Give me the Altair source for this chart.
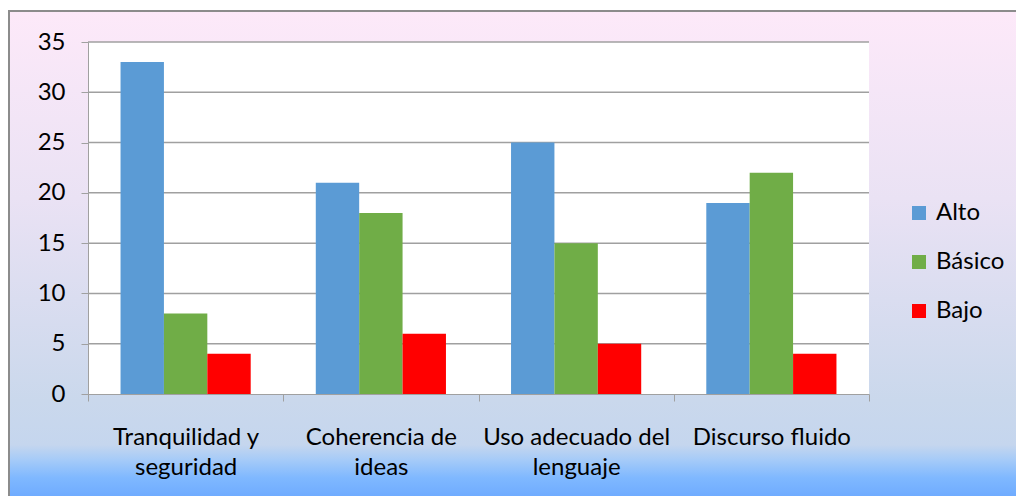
import altair as alt
import pandas as pd

categories = ["Tranquilidad y\nseguridad", "Coherencia de\nideas", "Uso adecuado del\nlenguaje", "Discurso fluido"]
series = ["Alto", "Básico", "Bajo"]
alto = [33, 21, 25, 19]
basico = [8, 18, 15, 22]
bajo = [4, 6, 5, 4]
y_ticks = [0, 5, 10, 15, 20, 25, 30, 35]
colors = ["#5B9BD5", "#70AD47", "#FF0000"]

rows = []
for i, c in enumerate(categories):
    for s, vals in zip(series, [alto, basico, bajo]):
        rows.append({"cat": c, "serie": s, "valor": vals[i]})
df = pd.DataFrame(rows)
grid_df = pd.DataFrame({"v": y_ticks[1:]})
one = pd.DataFrame({"a": [0]})

W, H = 781, 352
FONT = "Lato"
GRAY = "#A0A0A0"
FS = 24


def y_axis():
    return alt.Axis(values=y_ticks, title=None, grid=False, zindex=1,
                    domainColor=GRAY, tickColor=GRAY, tickSize=7,
                    labelFontSize=FS, labelPadding=16, labelColor="#000000",
                    labelFont=FONT)


bg = alt.Chart(one).mark_rect(
    fill=alt.Gradient(
        gradient="linear", x1=0, x2=0, y1=0, y2=1,
        stops=[
            alt.GradientStop(offset=0, color="#FDE9F9"),
            alt.GradientStop(offset=0.38, color="#EAE2F4"),
            alt.GradientStop(offset=0.79, color="#CAD8EC"),
            alt.GradientStop(offset=0.88, color="#C5D6EE"),
            alt.GradientStop(offset=0.91, color="#A6CBF8"),
            alt.GradientStop(offset=0.947, color="#7FB8FF"),
            alt.GradientStop(offset=1, color="#68A6FF"),
        ]),
    stroke="#8C8C8C", strokeWidth=2,
).encode(x=alt.value(-79), x2=alt.value(960), y=alt.value(-31), y2=alt.value(462))

plot_bg = alt.Chart(one).mark_rect(fill="white").encode(
    x=alt.value(0), x2=alt.value(W), y=alt.value(0), y2=alt.value(H))

grid = alt.Chart(grid_df).mark_rule(color=GRAY, strokeWidth=1.5).encode(
    y=alt.Y("v:Q", scale=alt.Scale(domain=[0, 35], nice=False), axis=y_axis()),
    x=alt.value(0), x2=alt.value(W))

bars = alt.Chart(df).mark_bar().encode(
    x=alt.X("cat:N", sort=categories, scale=alt.Scale(paddingInner=0, paddingOuter=0),
            axis=alt.Axis(title=None, labelAngle=0, tickBand="extent", zindex=1,
                          domainColor=GRAY, tickColor=GRAY, tickSize=7,
                          labelFontSize=FS, labelFont=FONT, labelColor="#000000",
                          labelPadding=24, labelLineHeight=30, labelLimit=400,
                          labelOverlap=False,
                          labelExpr="split(datum.label, '\\n')")),
    xOffset=alt.XOffset("serie:N", sort=series,
                        scale=alt.Scale(paddingInner=0, paddingOuter=0.75)),
    y=alt.Y("valor:Q", scale=alt.Scale(domain=[0, 35], nice=False), axis=y_axis()),
    color=alt.Color("serie:N", sort=series,
                    scale=alt.Scale(domain=series, range=colors),
                    legend=alt.Legend(title=None, orient="none", legendX=819, legendY=159,
                                      symbolType="square", symbolSize=196,
                                      symbolStrokeWidth=0, labelFontSize=FS,
                                      labelFont=FONT, labelColor="#000000",
                                      rowPadding=25, labelOffset=5, padding=0)),
)

chart = alt.layer(bg, plot_bg, grid, bars).properties(
    width=W, height=H,
    autosize=alt.AutoSizeParams(type="none"),
    padding={"left": 80, "top": 34, "right": 147, "bottom": 102},
).configure_view(stroke=None)

chart.save("out.html", embed_options={"renderer": "svg", "actions": False})
